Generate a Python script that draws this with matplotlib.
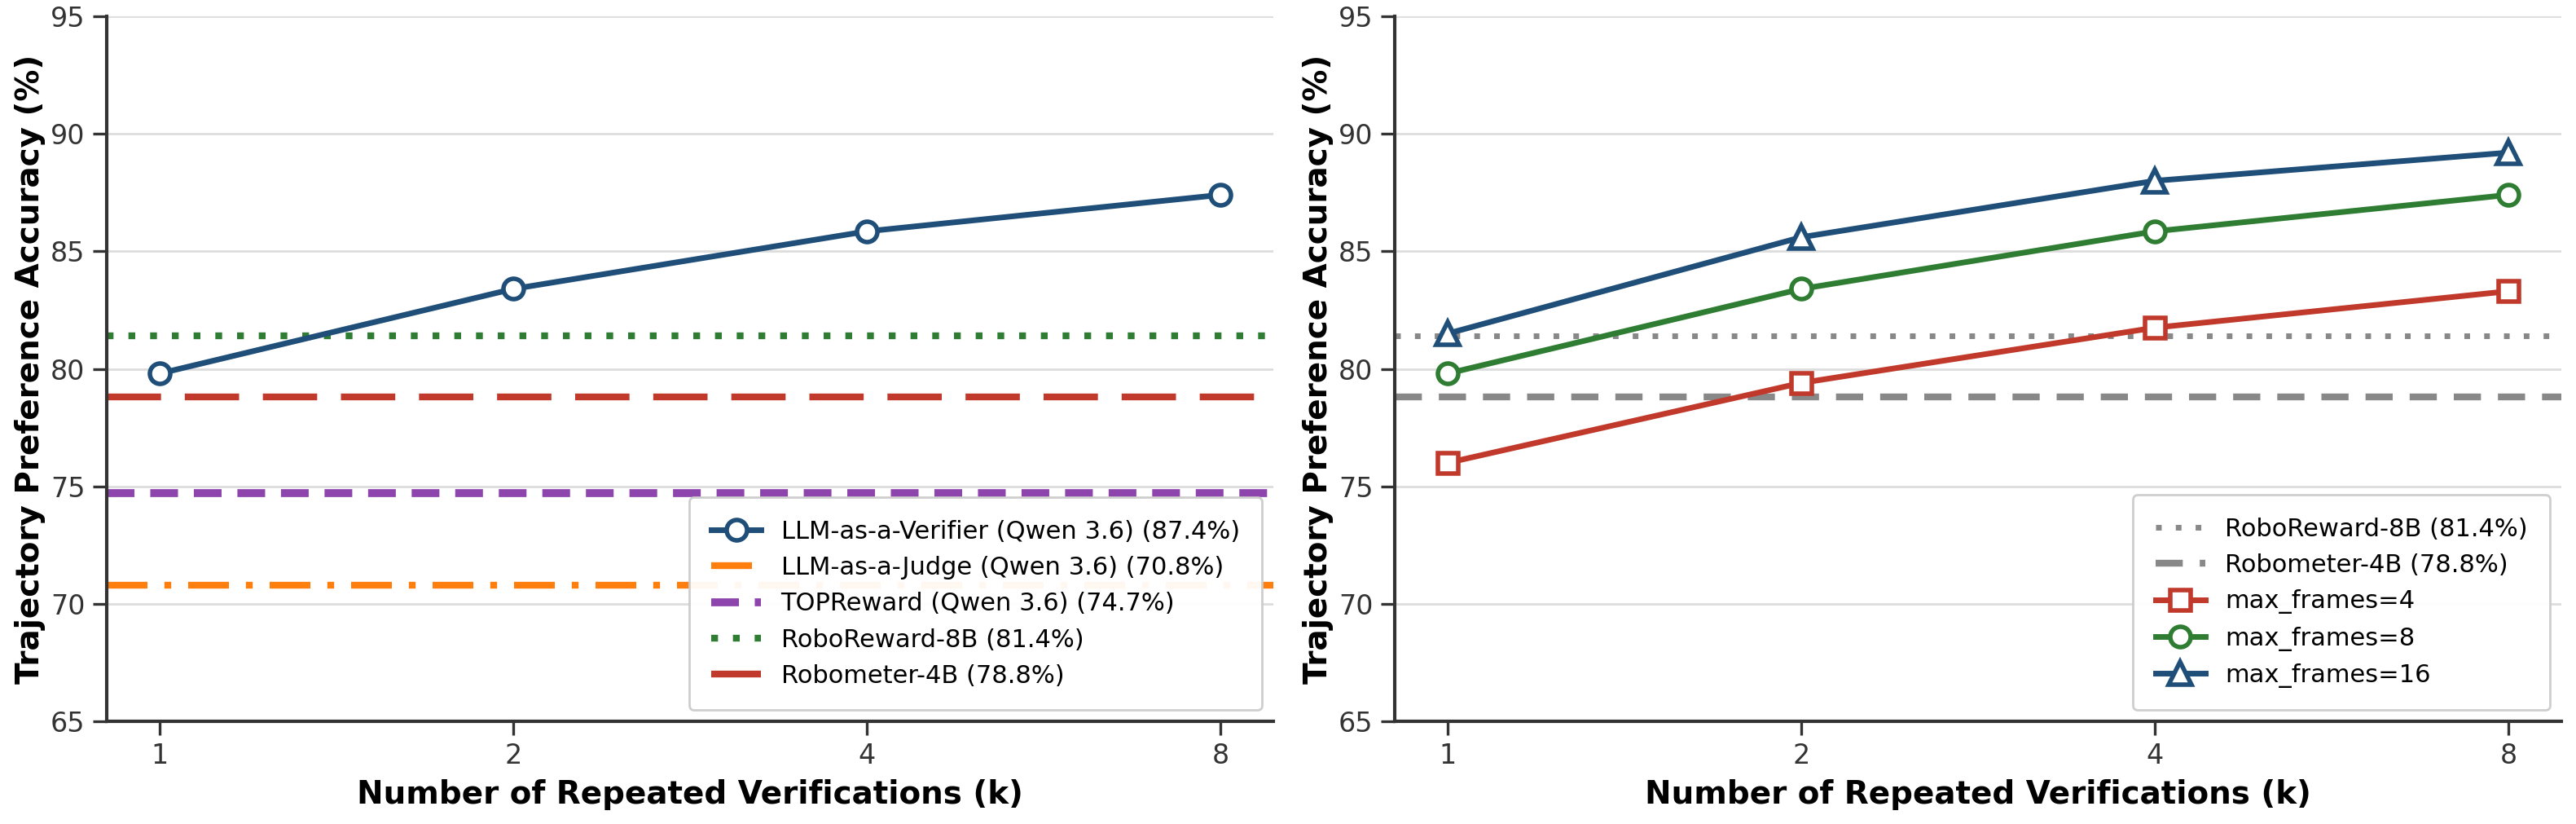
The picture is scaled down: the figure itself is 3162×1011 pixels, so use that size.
"""Repeated verification scaling: two-panel accuracy chart."""

import matplotlib

matplotlib.use("Agg")
from matplotlib import pyplot as plt

# ---------------------------------------------------------------------------
# Data
# ---------------------------------------------------------------------------

k_labels = ["1", "2", "4", "8"]

verifier_acc = [79.8, 83.4, 85.85, 87.4]

judge_acc = 70.8
topreward_acc = 74.7
roboreward_acc = 81.4
robometer_acc = 78.8

frames4_acc = [76.0, 79.4, 81.75, 83.3]
frames8_acc = [79.8, 83.4, 85.85, 87.4]
frames16_acc = [81.5, 85.6, 88.0, 89.2]

NAVY = "#1f4e79"
ORANGE = "#ff7f0e"
PURPLE = "#8e44ad"
GREEN = "#2e7d32"
RED = "#c0392b"
GRAY = "#888888"


def _style_axis(ax):
    x = list(range(len(k_labels)))
    ax.set_xticks(x)
    ax.set_xticklabels(k_labels)
    ax.set_xlim(-0.15, 3.15)
    ax.set_ylim(65, 95)
    ax.set_yticks(range(65, 96, 5))
    ax.grid(axis="y", color="#dddddd", linewidth=1.0)
    ax.set_axisbelow(True)
    for side in ("top", "right"):
        ax.spines[side].set_visible(False)
    for side in ("left", "bottom"):
        ax.spines[side].set_color("#333333")
        ax.spines[side].set_linewidth(1.5)
    ax.tick_params(axis="both", labelsize=12, colors="#333333", length=6, width=1.2)
    ax.set_xlabel("Number of Repeated Verifications (k)", fontsize=14, fontweight="bold")
    ax.set_ylabel("Trajectory Preference Accuracy (%)", fontsize=14, fontweight="bold",
                  labelpad=2)


def _legend(ax):
    ax.legend(loc="lower right", fontsize=11, framealpha=0.95, edgecolor="#cccccc",
              borderpad=0.9, handlelength=2.0, borderaxespad=0.45)


fig = plt.figure(figsize=(15.81, 5.055), dpi=200)
ax1 = fig.add_axes([0.0414, 0.1246, 0.4529, 0.8556])
ax2 = fig.add_axes([0.5414, 0.1246, 0.4529, 0.8556])

x = list(range(len(k_labels)))

# Left panel
ax1.plot(x, verifier_acc, color=NAVY, lw=2.5, marker="o", ms=9, mfc="white",
         mew=2, label="LLM-as-a-Verifier (Qwen 3.6) (87.4%)", zorder=5)
ax1.axhline(judge_acc, color=ORANGE, lw=3, ls=(0, (6, 2.5, 1, 2.5)),
            label="LLM-as-a-Judge (Qwen 3.6) (70.8%)")
ax1.axhline(topreward_acc, color=PURPLE, lw=3.5, ls=(0, (3.5, 2)),
            label="TOPReward (Qwen 3.6) (74.7%)")
ax1.axhline(roboreward_acc, color=GREEN, lw=3, ls=(0, (1, 2.2)),
            label="RoboReward-8B (81.4%)")
ax1.axhline(robometer_acc, color=RED, lw=3, ls=(0, (8, 3.5)),
            label="Robometer-4B (78.8%)")
_style_axis(ax1)
_legend(ax1)

# Right panel
ax2.axhline(roboreward_acc, color=GRAY, lw=2.5, ls=(0, (1, 2.5)),
            label="RoboReward-8B (81.4%)")
ax2.axhline(robometer_acc, color=GRAY, lw=3, ls=(0, (4, 2.5)),
            label="Robometer-4B (78.8%)")
ax2.plot(x, frames4_acc, color=RED, lw=2.5, marker="s", ms=9, mfc="white",
         mew=2, label="max_frames=4", zorder=5)
ax2.plot(x, frames8_acc, color=GREEN, lw=2.5, marker="o", ms=9, mfc="white",
         mew=2, label="max_frames=8", zorder=5)
ax2.plot(x, frames16_acc, color=NAVY, lw=2.5, marker="^", ms=10, mfc="white",
         mew=2, label="max_frames=16", zorder=5)
_style_axis(ax2)
_legend(ax2)

fig.savefig("out.png", dpi=200)
plt.close(fig)
